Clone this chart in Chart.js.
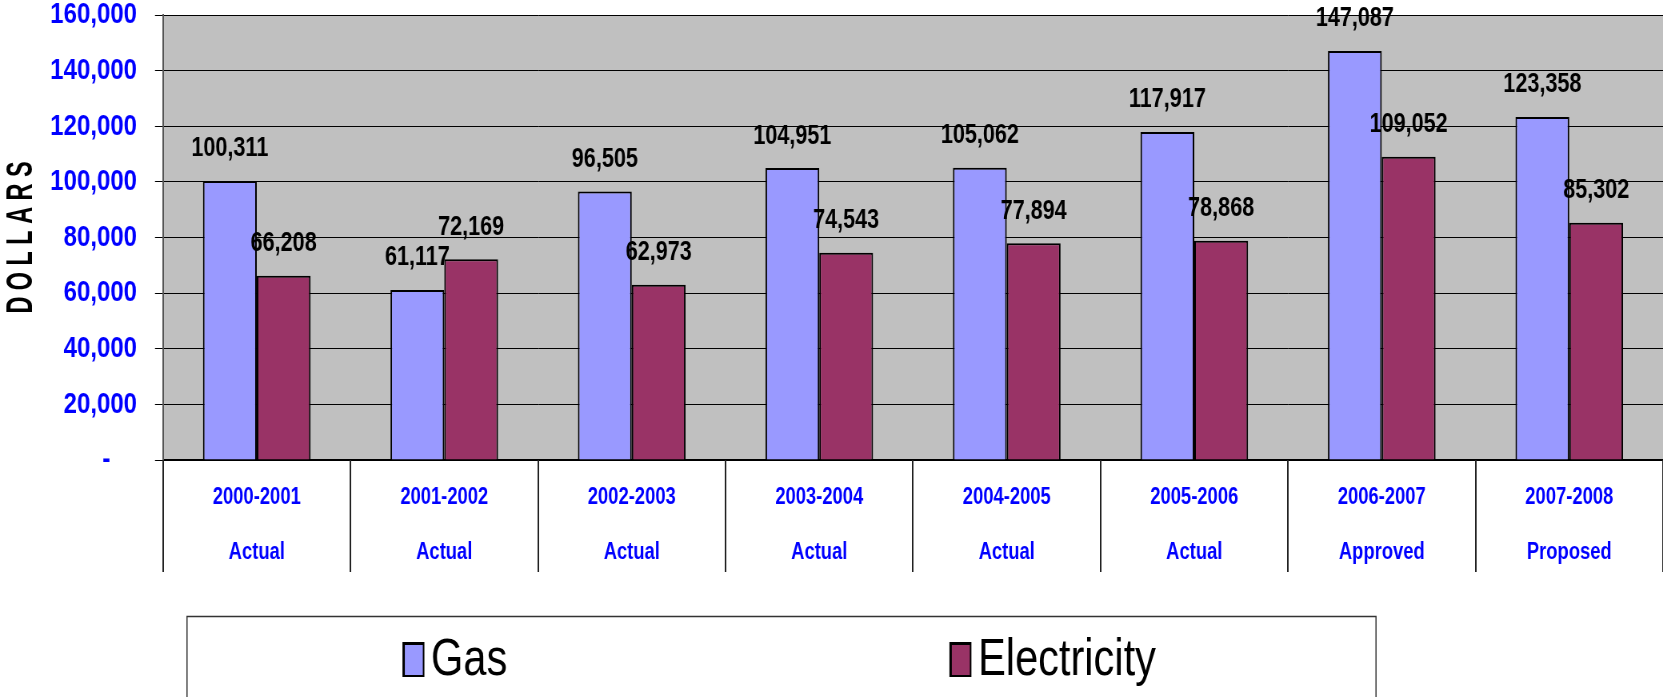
<!DOCTYPE html>
<html>
<head>
<meta charset="utf-8">
<script src="https://cdn.jsdelivr.net/npm/chart.js@4/dist/chart.umd.min.js"></script>
<style>
  html, body { margin: 0; padding: 0; background: #ffffff; overflow: hidden; }
  #wrap { width: 1663px; height: 697px; overflow: hidden; }
</style>
</head>
<body>
<div id="wrap"><canvas id="chart" width="2079" height="697" style="width:1663px;height:697px;display:block"></canvas></div>
<script>
(function () {
  'use strict';

  const years = ['2000-2001', '2001-2002', '2002-2003', '2003-2004', '2004-2005', '2005-2006', '2006-2007', '2007-2008'];
  const status = ['Actual', 'Actual', 'Actual', 'Actual', 'Actual', 'Actual', 'Approved', 'Proposed'];
  const gas = [100311, 61117, 96505, 104951, 105062, 117917, 147087, 123358];
  const electricity = [66208, 72169, 62973, 74543, 77894, 78868, 109052, 85302];
  const yTicks = [0, 20000, 40000, 60000, 80000, 100000, 120000, 140000, 160000];

  // canvas is drawn wide and squeezed by css, which gives the condensed lettering
  const K = 1663 / 2079;
  const px = (v) => v / K;

  const sans = "'Liberation Sans', Arial, sans-serif";
  const fmt = (v) => v.toLocaleString('en-US');

  const plotBackground = {
    id: 'plotBackground',
    beforeDraw(chart) {
      const { ctx, chartArea: a } = chart;
      ctx.save();
      ctx.fillStyle = '#c0c0c0';
      ctx.fillRect(a.left, a.top, a.right - a.left, a.bottom - a.top);
      ctx.restore();
    },
  };

  // vertical separators between category labels, below the plot
  const categoryDividers = {
    id: 'categoryDividers',
    afterDraw(chart) {
      const { ctx, chartArea: a } = chart;
      const x = chart.scales.x;
      const half = (x.getPixelForValue(1) - x.getPixelForValue(0)) / 2;
      ctx.save();
      ctx.strokeStyle = '#222';
      ctx.lineWidth = 2;
      for (let i = 0; i <= years.length; i++) {
        const xp = Math.round(x.getPixelForValue(i) - half);
        ctx.beginPath();
        ctx.moveTo(xp, a.bottom);
        ctx.lineTo(xp, a.bottom + x.height);
        ctx.stroke();
      }
      ctx.restore();
    },
  };

  const valueLabels = {
    id: 'valueLabels',
    afterDatasetsDraw(chart) {
      const { ctx } = chart;
      ctx.save();
      ctx.font = 'bold 27px ' + sans;
      ctx.fillStyle = '#000';
      ctx.textAlign = 'center';
      ctx.textBaseline = 'middle';
      chart.data.datasets.forEach((ds, di) => {
        chart.getDatasetMeta(di).data.forEach((bar, i) => {
          ctx.fillText(fmt(ds.data[i]), bar.x, bar.y - 32);
        });
      });
      ctx.restore();
    },
  };

  const axisTitle = {
    id: 'axisTitle',
    afterDraw(chart) {
      const { ctx, chartArea: a } = chart;
      ctx.save();
      ctx.translate(px(21), (a.top + a.bottom) / 2);
      ctx.rotate(-Math.PI / 2);
      ctx.scale(0.65, 1.26);
      ctx.font = 'bold 36px ' + sans;
      ctx.fillStyle = '#000';
      ctx.textAlign = 'center';
      ctx.textBaseline = 'middle';
      ctx.fillText('D O L L A R S', 0, 1);
      ctx.restore();
    },
  };

  const boxLegend = {
    id: 'boxLegend',
    afterDraw(chart) {
      const { ctx } = chart;
      const top = chart.chartArea.bottom + chart.scales.x.height + 44;
      ctx.save();
      ctx.strokeStyle = '#333';
      ctx.lineWidth = 1.5;
      ctx.strokeRect(px(187), top + 0.5, px(1189), 200);
      const starts = [px(404), px(951)];
      ctx.font = '52px ' + sans;
      ctx.textBaseline = 'middle';
      ctx.textAlign = 'left';
      chart.data.datasets.forEach((ds, i) => {
        const x = starts[i];
        const y = top + 27;
        ctx.fillStyle = '#000';
        ctx.fillRect(x - 2, y - 1, px(22), 35);
        ctx.fillStyle = ds.backgroundColor;
        ctx.fillRect(x + 1, y + 2, px(22) - 5, 30);
        ctx.fillStyle = '#000';
        ctx.fillText(ds.label, x + px(27), y + 18);
      });
      ctx.restore();
    },
  };

  new Chart(document.getElementById('chart'), {
    type: 'bar',
    data: {
      labels: years.map((y, i) => [y, status[i]]),
      datasets: [
        {
          label: 'Gas',
          data: gas,
          backgroundColor: '#9999ff',
          borderColor: '#000000',
          borderWidth: 2,
          categoryPercentage: 0.574,
          barPercentage: 1.0,
        },
        {
          label: 'Electricity',
          data: electricity,
          backgroundColor: '#993366',
          borderColor: '#000000',
          borderWidth: 2,
          categoryPercentage: 0.574,
          barPercentage: 1.0,
        },
      ],
    },
    options: {
      responsive: false,
      animation: false,
      devicePixelRatio: 1,
      layout: { padding: { top: 15, bottom: 125, left: 0, right: 0 } },
      plugins: {
        legend: { display: false },
        tooltip: { enabled: false },
      },
      scales: {
        x: {
          grid: { display: false },
          border: { color: '#000', width: 2 },
          ticks: {
            color: '#0000ff',
            padding: 2,
            maxRotation: 0,
            autoSkip: false,
            font: { family: sans, weight: 'bold', size: 23, lineHeight: 2.4 },
          },
          afterFit(scale) { scale.height = 112; },
        },
        y: {
          min: 0,
          max: yTicks[yTicks.length - 1],
          afterBuildTicks(scale) { scale.ticks = yTicks.map((v) => ({ value: v })); },
          grid: { color: '#000', lineWidth: 1, tickLength: px(8), tickColor: '#000' },
          border: { color: '#555', width: 2 },
          ticks: {
            color: '#0000ff',
            padding: px(18),
            font: { family: sans, weight: 'bold', size: 30, lineHeight: 1.0 },
            callback: (v) => (v === 0 ? '-    ' : fmt(v)),
          },
          afterFit(scale) {
            scale.width = px(163);
            scale.paddingTop = 0;
            scale.paddingBottom = 0;
          },
        },
      },
    },
    plugins: [plotBackground, categoryDividers, valueLabels, axisTitle, boxLegend],
  });
})();
</script>
</body>
</html>
